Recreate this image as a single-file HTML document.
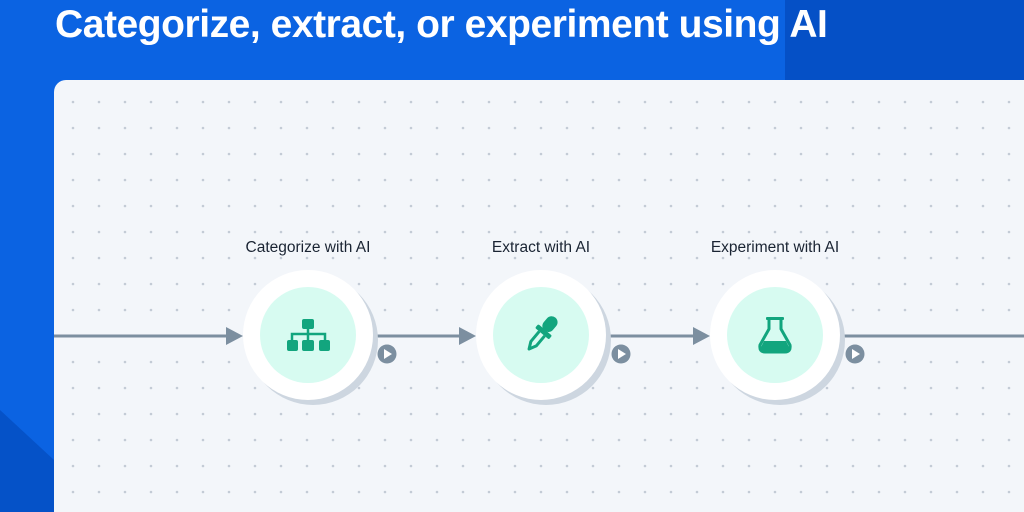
<!DOCTYPE html>
<html><head><meta charset="utf-8"><style>
html,body{margin:0;padding:0;width:1024px;height:512px;overflow:hidden;font-family:"Liberation Sans",sans-serif}
</style></head><body>
<svg width="1024" height="512" viewBox="0 0 1024 512" xmlns="http://www.w3.org/2000/svg">
<defs>
<pattern id="dots" x="73" y="102" width="26" height="26" patternUnits="userSpaceOnUse">
<circle cx="0" cy="0" r="1.3" fill="#c3cbd6"/><circle cx="26" cy="0" r="1.3" fill="#c3cbd6"/><circle cx="0" cy="26" r="1.3" fill="#c3cbd6"/><circle cx="26" cy="26" r="1.3" fill="#c3cbd6"/>
</pattern>
</defs>
<rect width="1024" height="512" fill="#0b63e2"/>
<polygon points="785,0 1024,0 1024,80 785,80" fill="#0550c6"/>
<polygon points="0,410 54,460 54,512 0,512" fill="#0552c8"/>
<text x="55" y="37" font-size="39" font-weight="bold" fill="#fff" letter-spacing="-0.45">Categorize, extract, or experiment using AI</text>
<path d="M66,80 H1024 V512 H54 V92 A12,12 0 0 1 66,80 Z" fill="#f3f6fa"/>
<path d="M66,80 H1024 V512 H54 V92 A12,12 0 0 1 66,80 Z" fill="url(#dots)"/>
<g stroke="#7c8fa0" stroke-width="3">
<line x1="54" y1="336" x2="230" y2="336"/>
<line x1="372" y1="336" x2="462" y2="336"/>
<line x1="605" y1="336" x2="696" y2="336"/>
<line x1="839" y1="336" x2="1024" y2="336"/>
</g>
<g fill="#7c8fa0">
<polygon points="226,327 243,336 226,345"/>
<polygon points="459,327 476,336 459,345"/>
<polygon points="693,327 710,336 693,345"/>
</g>
<g font-size="15.5" fill="#1a2433" text-anchor="middle">
<text x="308" y="252">Categorize with AI</text>
<text x="541" y="252">Extract with AI</text>
<text x="775" y="252">Experiment with AI</text>
</g>
<g>
<circle cx="313" cy="340" r="65" fill="#cdd6e0"/><circle cx="308" cy="335" r="65" fill="#fff"/><circle cx="308" cy="335" r="48" fill="#d7fbf1"/>
<circle cx="546" cy="340" r="65" fill="#cdd6e0"/><circle cx="541" cy="335" r="65" fill="#fff"/><circle cx="541" cy="335" r="48" fill="#d7fbf1"/>
<circle cx="780" cy="340" r="65" fill="#cdd6e0"/><circle cx="775" cy="335" r="65" fill="#fff"/><circle cx="775" cy="335" r="48" fill="#d7fbf1"/>
</g>
<g fill="#12a57e">
<rect x="302" y="319" width="12" height="10" rx="2"/>
<rect x="287" y="340" width="11" height="11" rx="2"/>
<rect x="302" y="340" width="12" height="11" rx="2"/>
<rect x="319" y="340" width="11" height="11" rx="2"/>
</g>
<path d="M308,329 V340 M292,340 V334 H325 V340" stroke="#12a57e" stroke-width="2.5" fill="none"/>
<g transform="translate(540,336) rotate(40)">
<rect x="-6" y="-24" width="12" height="17" rx="6" fill="#12a57e"/>
<rect x="-9" y="-8" width="18" height="5" rx="1.5" fill="#12a57e"/>
<path d="M-3.5,-3 V10 L0,17 L3.5,10 V-3" fill="none" stroke="#12a57e" stroke-width="3" stroke-linejoin="round"/>
</g>
<g>
<rect x="766" y="317" width="18" height="3" rx="1" fill="#12a57e"/>
<path d="M769,320 V329 L760,345 Q759,352 765,352 H785 Q791,352 790,345 L781,329 V320" fill="none" stroke="#12a57e" stroke-width="3" stroke-linejoin="round"/>
<path d="M764,341 H786 L789,347 Q790,352 785,352 H765 Q760,352 761,347 Z" fill="#12a57e"/>
</g>
<g fill="#7c8fa0">
<circle cx="387" cy="354" r="9.5"/><circle cx="621" cy="354" r="9.5"/><circle cx="855" cy="354" r="9.5"/>
</g>
<g fill="#fff">
<polygon points="384,349 392,354 384,359"/>
<polygon points="618,349 626,354 618,359"/>
<polygon points="852,349 860,354 852,359"/>
</g>
</svg>
</body></html>
